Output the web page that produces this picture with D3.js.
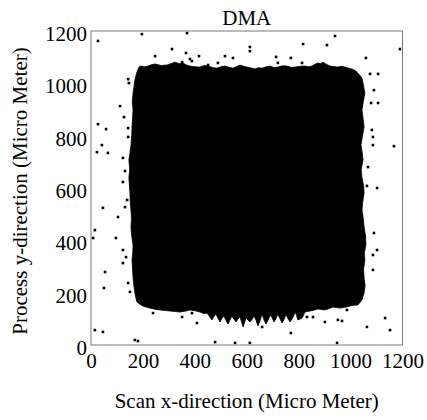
<!DOCTYPE html>
<html>
<head>
<meta charset="utf-8">
<script src="https://cdn.jsdelivr.net/npm/d3@7"></script>
<style>
  body { margin: 0; background: #fff; }
  text { font-family: "Liberation Serif", "Times New Roman", serif; fill: #000; }
</style>
</head>
<body>
<script>
// tick values for both axes
const xTicks = [0, 200, 400, 600, 800, 1000, 1200]
const yTicks = [0, 200, 400, 600, 800, 1000, 1200]

// outline of the dense deposited region (data units)
const blobX = [177, 183, 189, 205, 220, 232, 247, 270, 293, 310, 324, 340, 354, 368, 381, 400, 420, 436, 451, 470, 485, 500, 516, 532, 547, 560, 574, 588, 601, 616, 632, 645, 659, 675, 690, 705, 720, 738, 755, 770, 786, 805, 824, 838, 851, 863, 874, 884, 894, 908, 921, 936, 951, 965, 978, 992, 1005, 1018, 1028, 1036, 1044,
  1050, 1055, 1049, 1044, 1048, 1052, 1046, 1040, 1045, 1048, 1041, 1044, 1050, 1052, 1047, 1044, 1049, 1052, 1058, 1059, 1053, 1055, 1050, 1052, 1056, 1052, 1048, 1044,
  1028, 1012, 998, 978, 959, 945, 932, 916, 901, 886, 874, 858, 844, 832, 824, 818, 813, 805, 797, 790, 786, 778, 767, 758, 751, 744, 736, 728, 720, 712, 705, 697, 690, 682, 674, 666, 659, 651, 643, 636, 628, 620, 612, 604, 597, 591, 586, 580, 574, 566, 559, 551, 543, 535, 528, 520, 512, 504, 497, 489, 481, 473, 466, 456, 447, 434, 420, 400, 381, 362, 343, 324, 304, 285, 266, 246, 227, 212, 200, 188, 177,
  173, 169, 165, 162, 160, 158, 161, 162, 157, 154, 156, 154, 151, 150, 148, 146, 149, 146, 150, 154, 157, 158, 160, 162, 159, 162, 166, 169]
const blobY = [1043, 1058, 1066, 1063, 1066, 1071, 1074, 1068, 1070, 1076, 1081, 1075, 1078, 1070, 1066, 1063, 1062, 1068, 1066, 1060, 1058, 1063, 1066, 1061, 1058, 1064, 1070, 1065, 1062, 1059, 1055, 1060, 1058, 1063, 1066, 1060, 1062, 1067, 1066, 1061, 1062, 1065, 1066, 1063, 1066, 1073, 1078, 1075, 1081, 1072, 1066, 1064, 1062, 1065, 1062, 1058, 1055, 1049, 1039, 1030, 1020,
  990, 963, 930, 898, 866, 833, 800, 764, 735, 707, 672, 638, 610, 581, 548, 516, 483, 451, 416, 382, 352, 325, 290, 256, 228, 199, 185, 172,
  153, 152, 149, 144, 141, 143, 145, 139, 134, 136, 138, 133, 130, 128, 126, 112, 103, 99, 96, 118, 126, 105, 88, 102, 118, 98, 84, 100, 118, 100, 88, 106, 115, 95, 80, 97, 118, 92, 73, 94, 111, 97, 88, 96, 103, 84, 69, 88, 107, 99, 88, 98, 111, 95, 80, 94, 111, 101, 88, 103, 118, 108, 96, 110, 122, 120, 126, 131, 134, 129, 126, 128, 130, 132, 134, 137, 141, 145, 149, 156, 164,
  180, 199, 228, 256, 290, 325, 352, 382, 416, 451, 483, 516, 548, 581, 610, 638, 672, 707, 735, 764, 800, 833, 866, 898, 930, 963, 990, 1013]

// isolated points outside the main region
const strayX = [27, 196, 370, 312, 247, 366, 351, 389, 416, 381, 516, 547, 489, 451, 143, 146, 112, 127, 27, 58, 143, 143, 42, 23, 65, 123, 131, 123, 139, 131, 104, 46, 15, 96, 123, 135, 123, 54, 143, 150, 50, 8,
  239, 351, 389, 408, 169, 181, 15, 46, 478, 555, 612, 948, 770, 659, 832, 855, 901, 951, 967, 1133, 1063, 1152, 986,
  1090, 1102, 1086, 1086, 940, 612, 612, 817, 909, 1190, 1059, 1075, 1106, 1090, 1106, 1079, 1082, 1086, 1086, 1167, 1067, 1102, 1063, 713, 770, 813, 720]
const strayY = [1162, 1188, 1192, 1131, 1104, 1116, 1081, 1085, 1104, 1093, 1104, 1097, 1078, 1070, 1016, 1001, 913, 871, 844, 825, 829, 795, 764, 737, 734, 715, 665, 623, 554, 527, 489, 524, 439, 409, 363, 336, 313, 279, 237, 203, 218, 409,
  122, 107, 122, 84, 19, 15, 57, 50, 11, 8, 8, 8, 46, 69, 107, 107, 88, 96, 92, 103, 69, 57, 134,
  428, 363, 344, 287, 1181, 1139, 1123, 1150, 1146, 1131, 1097, 1036, 1036, 974, 925, 925, 822, 795, 764, 760, 680, 600, 608, 1101, 1097, 1078, 1078]

const width = 427, height = 420
const margin = {top: 31, right: 24.5, bottom: 75, left: 91}
const w = width - margin.left - margin.right
const h = height - margin.top - margin.bottom

const svg = d3.select("body").append("svg")
  .attr("width", width)
  .attr("height", height)

const x = d3.scaleLinear().domain([0, 1200]).range([margin.left, margin.left + w])
const y = d3.scaleLinear().domain([0, 1200]).range([margin.top + h, margin.top])

// main region
const outline = blobX.map((d, i) => [x(d), y(blobY[i])])
svg.append("path")
  .attr("d", d3.line().curve(d3.curveLinearClosed)(outline))
  .attr("fill", "#000")
  .attr("stroke", "#000")
  .attr("stroke-width", 0.8)

// stray points, drawn as small squares like the raster dots
svg.append("g")
  .selectAll("rect")
  .data(strayX)
  .enter()
  .append("rect")
    .attr("x", d => x(d) - 1.3)
    .attr("y", (d, i) => y(strayY[i]) - 1.3)
    .attr("width", 2.6)
    .attr("height", 2.6)
    .attr("fill", "#000")

// frame
svg.append("rect")
  .attr("x", margin.left)
  .attr("y", margin.top)
  .attr("width", w)
  .attr("height", h)
  .attr("fill", "none")
  .attr("stroke", "#7a7a7a")
  .attr("stroke-width", 1)

// axes
const xAxis = svg.append("g")
  .attr("transform", "translate(0," + (margin.top + h) + ")")
  .call(d3.axisBottom(x).tickValues(xTicks).tickSize(0).tickPadding(8).tickFormat(d3.format("d")))
xAxis.select(".domain").remove()
xAxis.selectAll("text").style("font-size", "21px").style("font-family", "Liberation Serif")

const yAxis = svg.append("g")
  .attr("transform", "translate(" + margin.left + ",0)")
  .call(d3.axisLeft(y).tickValues(yTicks).tickSize(0).tickPadding(4).tickFormat(d3.format("d")))
yAxis.select(".domain").remove()
yAxis.selectAll("text").style("font-size", "21px").style("font-family", "Liberation Serif").attr("dy", "0.45em")

// title and labels
svg.append("text")
  .attr("x", margin.left + w / 2)
  .attr("y", 25)
  .attr("text-anchor", "middle")
  .style("font-size", "21px")
  .text("DMA")

svg.append("text")
  .attr("x", margin.left + w / 2)
  .attr("y", 408)
  .attr("text-anchor", "middle")
  .style("font-size", "21px")
  .text("Scan x-direction (Micro Meter)")

svg.append("text")
  .attr("transform", "translate(27," + (margin.top + h / 2 + 3) + ")rotate(-90)")
  .attr("text-anchor", "middle")
  .style("font-size", "21px")
  .text("Process y-direction (Micro Meter)")
</script>
</body>
</html>
